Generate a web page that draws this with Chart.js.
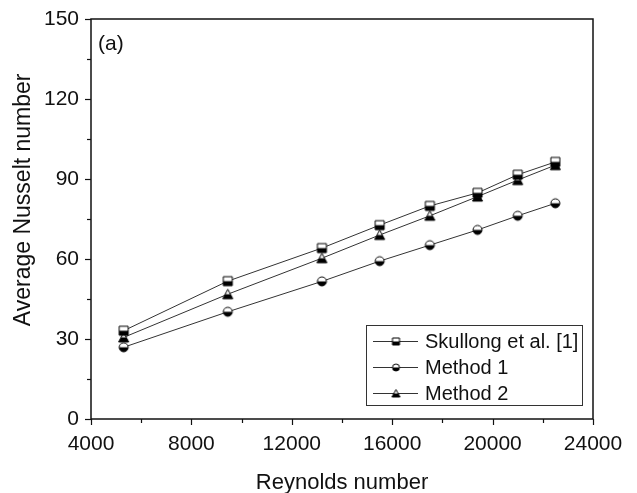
<!DOCTYPE html>
<html>
<head>
<meta charset="utf-8">
<script src="https://cdn.jsdelivr.net/npm/chart.js@4.4.0/dist/chart.umd.min.js"></script>
<style>
  html, body { margin: 0; padding: 0; background: #fff; }
  #wrap { width: 637px; height: 493px; }
</style>
</head>
<body>
<div id="wrap"><canvas id="nusselt" width="637" height="493"></canvas></div>
<script>
(function () {
    'use strict';

    var reynolds = [5300, 9450, 13200, 15500, 17500, 19400, 21000, 22500];
    var skullong = [33.1, 51.7, 64.1, 72.7, 79.9, 84.8, 91.6, 96.4];
    var method1 = [26.9, 40.2, 51.6, 59.2, 65.2, 70.9, 76.2, 80.9];
    var method2 = [30.6, 46.8, 60.3, 69.0, 76.2, 83.4, 89.6, 95.2];
    var seriesNames = ['Skullong et al. [1]', 'Method 1', 'Method 2'];

    var ink = '#111';
    var font = 'Arial, "Liberation Sans", sans-serif';

    // half filled markers: white top, black bottom
    function marker(shape, size) {
        var pad = 2, c = document.createElement('canvas');
        c.width = c.height = size + pad * 2;
        var g = c.getContext('2d'), h = size / 2, m = c.width / 2;
        function path() {
            g.beginPath();
            if (shape === 'square') g.rect(m - h, m - h, size, size);
            else if (shape === 'circle') g.arc(m, m, h, 0, Math.PI * 2);
            else { g.moveTo(m, m - h - 0.5); g.lineTo(m + h + 0.5, m + h); g.lineTo(m - h - 0.5, m + h); g.closePath(); }
        }
        path(); g.fillStyle = '#fff'; g.fill();
        g.save(); g.beginPath(); g.rect(0, m, c.width, c.height); g.clip();
        path(); g.fillStyle = '#000'; g.fill(); g.restore();
        path(); g.lineWidth = 1; g.strokeStyle = '#000'; g.stroke();
        return c;
    }

    var shapes = ['square', 'circle', 'triangle'];
    var plotMarks = shapes.map(function (s) { return marker(s, 9); });
    var legendMarks = shapes.map(function (s) { return marker(s, 7); });

    function pts(ys) {
        return reynolds.map(function (x, i) { return { x: x, y: ys[i] }; });
    }

    var datasets = [skullong, method1, method2].map(function (ys, i) {
        return {
            label: seriesNames[i],
            data: pts(ys),
            showLine: true,
            borderColor: '#333',
            borderWidth: 1,
            pointStyle: plotMarks[i],
            pointRadius: 5,
            pointHoverRadius: 5
        };
    });

    // frame, outward ticks, panel label, boxed legend
    var decor = {
        id: 'decor',
        afterDraw: function (chart) {
            var g = chart.ctx, a = chart.chartArea;
            var xs = chart.scales.x, ys = chart.scales.y;
            g.save();
            g.strokeStyle = ink;
            g.lineWidth = 1.5;
            g.strokeRect(a.left, a.top, a.right - a.left, a.bottom - a.top);

            g.lineWidth = 1.2;
            xs.ticks.forEach(function (t) {
                var px = Math.round(xs.getPixelForValue(t.value)) + 0.5;
                var len = (t.value % 4000 === 0) ? 6 : 4;
                g.beginPath(); g.moveTo(px, a.bottom); g.lineTo(px, a.bottom + len); g.stroke();
            });
            ys.ticks.forEach(function (t) {
                var py = Math.round(ys.getPixelForValue(t.value)) + 0.5;
                var len = (t.value % 30 === 0) ? 6 : 4;
                g.beginPath(); g.moveTo(a.left, py); g.lineTo(a.left - len, py); g.stroke();
            });

            g.fillStyle = ink;
            g.font = '21px ' + font;
            g.textBaseline = 'middle';
            g.textAlign = 'left';
            g.fillText('(a)', a.left + 7, a.top + 25);

            // legend box
            var bx = 366, by = 325, bw = 216, bh = 80;
            g.font = '20px ' + font;
            g.lineWidth = 1;
            g.strokeStyle = '#333';
            g.strokeRect(bx + 0.5, by + 0.5, bw, bh);
            chart.data.datasets.forEach(function (ds, i) {
                var cy = by + 16 + i * 26;
                g.strokeStyle = '#333';
                g.lineWidth = 1;
                g.beginPath(); g.moveTo(bx + 7, cy + 0.5); g.lineTo(bx + 52, cy + 0.5); g.stroke();
                var mk = legendMarks[i];
                g.drawImage(mk, bx + 30 - mk.width / 2, cy - mk.height / 2 + 0.5);
                g.fillStyle = ink;
                g.fillText(ds.label, bx + 59, cy + 1);
            });
            g.restore();
        }
    };

    new Chart(document.getElementById('nusselt').getContext('2d'), {
        type: 'scatter',
        data: { datasets: datasets },
        plugins: [decor],
        options: {
            responsive: false,
            animation: false,
            layout: { padding: { left: 0, top: 19, right: 44, bottom: 0 } },
            plugins: { legend: { display: false }, tooltip: { enabled: false } },
            scales: {
                x: {
                    type: 'linear',
                    min: 4000,
                    max: 24000,
                    afterFit: function (s) { s.height = 74; s.paddingLeft = 0; s.paddingRight = 0; },
                    grid: { display: false, drawTicks: false },
                    border: { display: false },
                    ticks: {
                        stepSize: 2000,
                        autoSkip: false,
                        maxRotation: 0,
                        minRotation: 0,
                        padding: 13,
                        color: ink,
                        font: { family: font, size: 21 },
                        callback: function (v) { return v % 4000 === 0 ? String(v) : ''; }
                    },
                    title: {
                        display: true,
                        text: 'Reynolds number',
                        color: ink,
                        font: { family: font, size: 22 },
                        padding: { top: 15, bottom: -3 }
                    }
                },
                y: {
                    min: 0,
                    max: 150,
                    afterFit: function (s) { s.width = 91; s.paddingTop = 0; s.paddingBottom = 0; },
                    grid: { display: false, drawTicks: false },
                    border: { display: false },
                    ticks: {
                        stepSize: 15,
                        autoSkip: false,
                        padding: 12,
                        color: ink,
                        font: { family: font, size: 21 },
                        callback: function (v) { return v % 30 === 0 ? String(v) : ''; }
                    },
                    title: {
                        display: true,
                        text: '\u00a0\u00a0\u00a0\u00a0\u00a0\u00a0Average Nusselt number',
                        color: ink,
                        font: { family: font, size: 23 },
                        padding: { top: 10, bottom: 0 }
                    }
                }
            }
        }
    });
})();
</script>
</body>
</html>
